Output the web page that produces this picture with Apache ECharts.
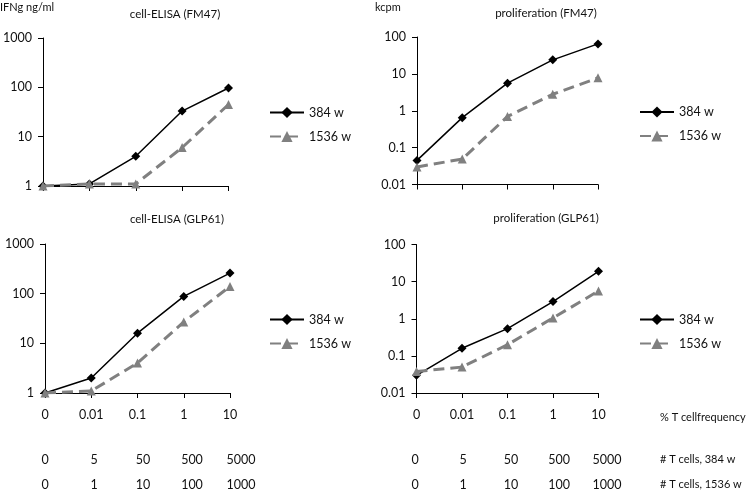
<!DOCTYPE html>
<html>
<head>
<meta charset="utf-8">
<script src="https://cdn.jsdelivr.net/npm/echarts@6/dist/echarts.min.js"></script>
<style>html,body{margin:0;padding:0;background:#fff}#c{width:750px;height:498px}</style>
</head>
<body>
<div id="c"></div>
<script>
// ---- data ----
var freqLabels = ['0', '0.01', '0.1', '1', '10'];
var cells384Labels = ['0', '5', '50', '500', '5000'];
var cells1536Labels = ['0', '1', '10', '100', '1000'];
var seriesNames = ['384 w', '1536 w'];

var elisaFM47_384 = [1, 1.1, 4, 33, 97];
var elisaFM47_1536 = [1, 1.1, 1.1, 6, 45];
var prolifFM47_384 = [0.045, 0.65, 5.6, 24, 65];
var prolifFM47_1536 = [0.03, 0.049, 0.7, 2.8, 7.8];
var elisaGLP61_384 = [1, 2, 16, 88, 260];
var elisaGLP61_1536 = [1, 1.1, 4, 27, 140];
var prolifGLP61_384 = [0.03, 0.16, 0.54, 2.9, 19];
var prolifGLP61_1536 = [0.038, 0.05, 0.2, 1.05, 5.6];

var elisaRange = [1, 1000];
var prolifRange = [0.01, 100];

var panelTitles = ['cell-ELISA (FM47)', 'proliferation (FM47)', 'cell-ELISA (GLP61)', 'proliferation (GLP61)'];
var unitLabels = ['IFNg ng/ml', 'kcpm'];
var rowNames = ['% T cellfrequency', '# T cells, 384 w', '# T cells, 1536 w'];

// ---- chart ----
var FONT = 'Lato';
var TXT = '#111';
var chart = echarts.init(document.getElementById('c'), null, {renderer: 'canvas'});

var grids = [
  {left: 43, top: 38, width: 185.5, height: 148},
  {left: 417, top: 37, width: 181, height: 147.5},
  {left: 45, top: 244, width: 185, height: 149},
  {left: 416.5, top: 244.5, width: 182, height: 148.5},
  {left: 45, top: 244, width: 196, height: 149},
  {left: 415, top: 244.5, width: 192, height: 148.5}
];

function fmt(v) { return String(Number(v.toPrecision(6))); }

function plotX(gi, showLabels) {
  return {
    type: 'category', gridIndex: gi, data: freqLabels, boundaryGap: false,
    axisLine: {lineStyle: {color: '#000', width: 1}},
    axisTick: {show: true, inside: false, length: 5, lineStyle: {color: '#000'}},
    axisLabel: {show: showLabels, margin: 15, fontFamily: FONT, fontSize: 12.5, color: TXT},
    splitLine: {show: false}
  };
}
function plotY(gi, range) {
  return {
    type: 'log', logBase: 10, gridIndex: gi, min: range[0], max: range[1],
    axisLine: {show: true, lineStyle: {color: '#000', width: 1}},
    axisTick: {show: true, inside: false, length: 5, lineStyle: {color: '#000'}},
    axisLabel: {margin: 11, fontFamily: FONT, fontSize: 12.5, color: TXT, formatter: fmt},
    splitLine: {show: false}, minorTick: {show: false}
  };
}
function rowX(gi, labels, offset) {
  return {
    type: 'category', gridIndex: gi, data: labels, boundaryGap: false, position: 'bottom', offset: offset,
    axisLine: {show: false}, axisTick: {show: false}, splitLine: {show: false},
    axisLabel: {margin: 0, fontFamily: FONT, fontSize: 12.5, color: TXT}
  };
}

var xAxes = [
  plotX(0, false), plotX(1, false), plotX(2, true), plotX(3, true),
  rowX(4, cells384Labels, 60), rowX(4, cells1536Labels, 85),
  rowX(5, cells384Labels, 60), rowX(5, cells1536Labels, 85)
];
var yAxes = [
  plotY(0, elisaRange), plotY(1, prolifRange), plotY(2, elisaRange), plotY(3, prolifRange),
  {type: 'value', gridIndex: 4, show: false}, {type: 'value', gridIndex: 5, show: false}
];

function s384(i, data) {
  return {
    name: seriesNames[0], type: 'line', xAxisIndex: i, yAxisIndex: i, data: data,
    symbol: 'diamond', symbolSize: 9, showSymbol: true,
    lineStyle: {color: '#000', width: 1.5}, itemStyle: {color: '#000'},
    animation: false, z: 2
  };
}
function s1536(i, data) {
  return {
    name: seriesNames[1], type: 'line', xAxisIndex: i, yAxisIndex: i, data: data,
    symbol: 'triangle', symbolSize: 9, showSymbol: true,
    lineStyle: {color: '#808080', width: 3, type: [11, 6]}, itemStyle: {color: '#808080'},
    animation: false, z: 3
  };
}

var series = [
  s384(0, elisaFM47_384), s1536(0, elisaFM47_1536),
  s384(1, prolifFM47_384), s1536(1, prolifFM47_1536),
  s384(2, elisaGLP61_384), s1536(2, elisaGLP61_1536),
  s384(3, prolifGLP61_384), s1536(3, prolifGLP61_1536)
];

function legendAt(left, top) {
  return {
    data: seriesNames, orient: 'vertical', left: left, top: top, padding: 0,
    itemWidth: 34, itemHeight: 14, itemGap: 11, selectedMode: false,
    textStyle: {fontFamily: FONT, fontSize: 12.5, color: TXT}
  };
}

function txt(x, y, s, size, align) {
  return {
    type: 'text', x: x, y: y, silent: true,
    style: {text: s, fontFamily: FONT, fontSize: size, fill: TXT, align: align || 'left', verticalAlign: 'middle'}
  };
}

var option = {
  backgroundColor: '#fff',
  animation: false,
  grid: grids,
  xAxis: xAxes,
  yAxis: yAxes,
  series: series,
  legend: [legendAt(269, 106), legendAt(639, 105.5), legendAt(269, 313), legendAt(639, 313)],
  graphic: [
    txt(0, 7, unitLabels[0], 11),
    txt(375, 7, unitLabels[1], 11),
    txt(175, 14, panelTitles[0], 11.5, 'center'),
    txt(546, 13, panelTitles[1], 11.5, 'center'),
    txt(177, 219, panelTitles[2], 11.5, 'center'),
    txt(546, 218, panelTitles[3], 11.5, 'center'),
    txt(660, 417, rowNames[0], 11),
    txt(660, 459.5, rowNames[1], 11),
    txt(660, 484.5, rowNames[2], 11)
  ]
};
chart.setOption(option);
</script>
</body>
</html>
